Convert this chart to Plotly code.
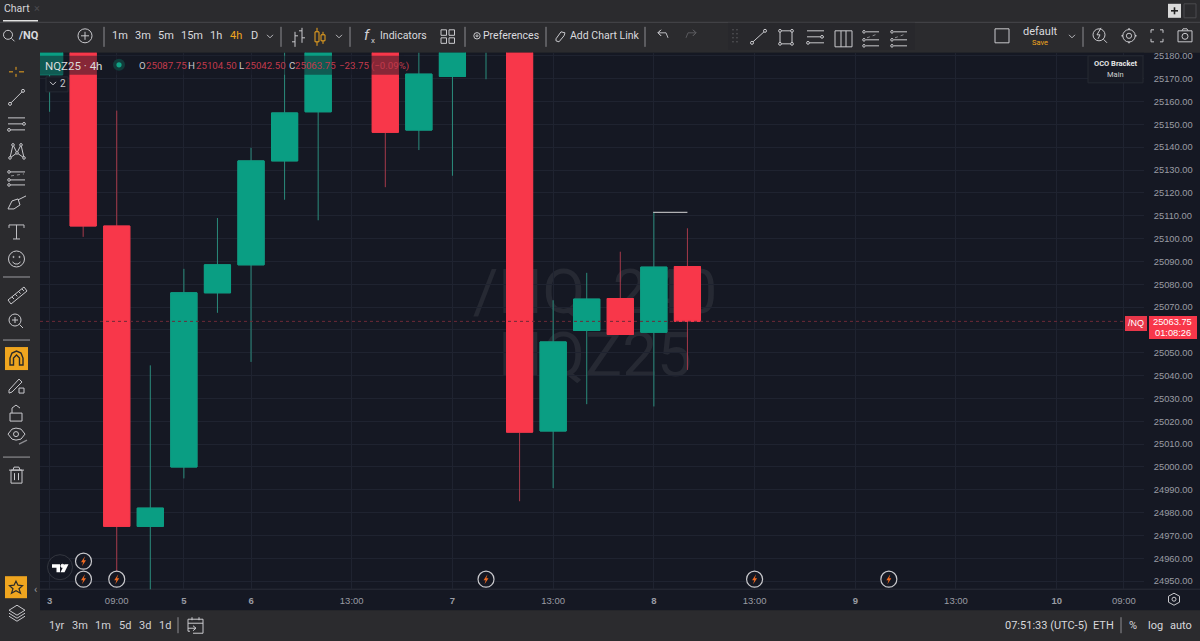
import plotly.graph_objects as go

# ---- data ----
BAR_INDEX = list(range(20))
OPEN  = [25171.75, 25230.00, 25105.50, 24974.00, 25000.00, 25076.25, 25088.50, 25134.00, 25155.50, 25210.00,
         25200.00, 25147.50, 25171.00, 25185.00, 25200.00, 25015.75, 25059.75, 25073.75, 25059.00, 25087.75]
HIGH  = [25200.00, 25240.00, 25156.00, 25044.50, 25086.75, 25109.00, 25139.75, 25190.00, 25210.00, 25220.00,
         25210.00, 25195.00, 25200.00, 25205.00, 25210.00, 25073.00, 25085.00, 25094.25, 25111.50, 25104.50]
LOW   = [25155.50, 25100.75, 24952.50, 24945.00, 24995.00, 25067.50, 25046.00, 25117.00, 25108.00, 25185.00,
         25122.50, 25138.75, 25127.50, 25169.75, 24985.00, 24990.75, 25027.50, 25058.00, 25026.50, 25042.50]
CLOSE = [25190.00, 25105.50, 24974.00, 24982.00, 25076.25, 25088.50, 25134.00, 25155.00, 25195.00, 25195.00,
         25146.50, 25172.00, 25190.00, 25195.00, 25015.25, 25054.75, 25073.50, 25058.00, 25087.50, 25063.75]
PRICE_TICKS = [24950, 24960, 24970, 24980, 24990, 25000, 25010, 25020, 25030, 25040, 25050, 25060,
               25070, 25080, 25090, 25100, 25110, 25120, 25130, 25140, 25150, 25160, 25170, 25180]
# 25060 sits behind the current-price box
PRICE_TICK_LABELS = ['24950.00', '24960.00', '24970.00', '24980.00', '24990.00', '25000.00', '25010.00', '25020.00',
                     '25030.00', '25040.00', '25050.00', '', '25070.00', '25080.00', '25090.00', '25100.00',
                     '25110.00', '25120.00', '25130.00', '25140.00', '25150.00', '25160.00', '25170.00', '25180.00']
TIME_TICK_INDEX = [0, 2, 4, 6, 9, 12, 15, 18, 21, 24, 27, 30, 32]
TIME_TICK_LABELS = ['3', '09:00', '5', '6', '13:00', '7', '13:00', '8', '13:00', '9', '13:00', '10', '09:00']
EVENT_INDEX = [2, 13, 21, 25]

# ---- styling ----
W, H = 1200, 641
CHART_L, CHART_R, CHART_T, CHART_B = 40, 1144, 53, 589
BAR_PX, FIRST_PX = 33.57, 49.6
PX_PER_PT, Y180 = 2.2826, 56.0
BG = '#151823'
PANEL = '#2b2b2e'
GRID = '#1f2330'
GREEN = '#0A9E83'
RED = '#F8374A'
GREEN_W = '#2B8C7C'
RED_W = '#A63A4A'
ICON = '#c9c9cd'
ORANGE = '#EFA51F'
FONT = 'Roboto'
AXFONT = 'Liberation Sans'
CLEAR = 'rgba(0,0,0,0)'
Y_OFF, Y_SCALE = 2.2, 0.9962

def X(p): return p / W
def Y(p): return 1 - (p - Y_OFF) / Y_SCALE / H

S = []
A = []

def line(x0, y0, x1, y1, c=ICON, w=1, layer='above', dash=None):
    S.append(dict(type='line', xref='paper', yref='paper', x0=X(x0), y0=Y(y0), x1=X(x1), y1=Y(y1),
                  line=dict(color=c, width=w, dash=dash or 'solid'), layer=layer))

def rect(x0, y0, x1, y1, fill=None, c=None, w=1, layer='above'):
    if c is None:
        c = ICON if fill is None else CLEAR
    S.append(dict(type='rect', xref='paper', yref='paper', x0=X(x0), y0=Y(y0), x1=X(x1), y1=Y(y1),
                  fillcolor=fill or CLEAR, line=dict(color=c, width=w), layer=layer))

def circ(cx, cy, r, fill=CLEAR, c=ICON, w=1):
    S.append(dict(type='circle', xref='paper', yref='paper', x0=X(cx - r), y0=Y(cy - r), x1=X(cx + r), y1=Y(cy + r),
                  fillcolor=fill, line=dict(color=c, width=w), layer='above'))

def poly(pts, closed=False, fill=CLEAR, c=ICON, w=1):
    d = 'M ' + ' L '.join(f'{X(a):.5f},{Y(b):.5f}' for a, b in pts) + (' Z' if closed else '')
    S.append(dict(type='path', xref='paper', yref='paper', path=d, fillcolor=fill,
                  line=dict(color=c, width=w), layer='above'))

def T(x, y, s, size=11, c='#d2d2d6', anchor='center', font=FONT):
    A.append(dict(xref='paper', yref='paper', x=X(x), y=Y(y), text=s, showarrow=False, xanchor=anchor,
                  yanchor='middle', borderpad=0, borderwidth=0, font=dict(family=font, size=size, color=c)))

# ---- panels ----
rect(CHART_L, CHART_T, W, 610, fill=BG, layer='below')
line(0, 22.5, W, 22.5, c='#47474b', w=1, layer='below')
line(CHART_L, CHART_B, W, CHART_B, c='#2a2e39', w=1, layer='below')

# watermark: text below the candles
for cy, txt, cx in [(288, '/NQ, 240', 595), (350, 'NQZ25', 595)]:
    S.append(dict(type='rect', xref='paper', yref='paper', x0=X(cx - 160), x1=X(cx + 160), y0=Y(cy + 35), y1=Y(cy - 35),
                  fillcolor=CLEAR, line=dict(width=0), layer='below',
                  label=dict(text=txt, textposition='middle center',
                             font=dict(family=FONT, size=62, color='#262933'))))

# ---- marks derived from the data ----
last = len(CLOSE) - 1
S.append(dict(type='line', xref='paper', yref='y', x0=X(CHART_L), x1=X(CHART_R), y0=CLOSE[last], y1=CLOSE[last],
              line=dict(color='#6e2a38', width=1, dash='dot'), layer='above'))
S.append(dict(type='line', xref='x', yref='y', x0=BAR_INDEX[18] - 0.02, x1=BAR_INDEX[19], y0=HIGH[18], y1=HIGH[18],
              line=dict(color='#d8d8d8', width=1), layer='above'))

# ---- legend strip ----
rect(CHART_L, 56, 404, 75, fill='rgba(21,24,35,0.5)')
T(45, 66, 'NQZ25 · 4h', 11.5, '#dcdcdc', 'left')
circ(119, 65, 6, fill='#123c3b', c=CLEAR)
circ(119, 65, 2.6, fill='#12a386', c=CLEAR)
legend_red = '#c23a4c'
for lab, val, xv in [('O', '25087.75', 146), ('H', '25104.50', 196), ('L', '25042.50', 245), ('C', '25063.75', 295)]:
    T(xv - 0.5, 66, lab, 9.7, '#c8c8cc', 'right')
    T(xv, 66, val, 9.7, legend_red, 'left')
T(339, 66, '−23.75', 9.7, legend_red, 'left')
T(371, 66, '(−0.09%)', 9.7, legend_red, 'left')
rect(46, 77, 68, 92, fill='#171a24', c='#262a35')
poly([(50, 82), (53, 85), (56, 82)], c='#c8c8cc')
T(60, 84, '2', 10, '#c8c8cc', 'left')

# ---- OCO box ----
rect(1088, 56, 1143, 83, fill='#181b25', c='#262a33')
T(1115.5, 64, '<b>OCO Bracket</b>', 7.5, '#e6e6e6')
T(1115.5, 75, 'Main', 7.5, '#d0d0d0')

# ---- price labels ----
rect(1125, 316, 1147, 331, fill='#E8374A')
T(1136, 323, '/NQ', 9, '#ffffff', font=AXFONT)
rect(1149, 316, 1197, 339, fill='#F8374A')
T(1172.5, 321.5, '25063.75', 9.3, '#ffffff', font=AXFONT)
T(1172.5, 333, '01:08:26', 9.3, '#ffffff', font=AXFONT)

# ---- top bar ----
T(4, 9, 'Chart', 10.5, '#d6d6da', 'left')
T(34, 9, '×', 11, '#4a4a4e', 'left')
line(3, 21, 38, 21, c='#e2e2e2', w=1.5)
rect(1168, 4, 1181, 18, fill='#d9d9d9')
line(1171, 11, 1178, 11, c='#222', w=1.6)
line(1174.5, 7.5, 1174.5, 14.5, c='#222', w=1.6)
rect(1184, 4, 1196, 18, c='#4a4a4e')
circ(8, 35, 4.5)
line(11.5, 38.5, 14.5, 41.5)
T(18, 36, '<b>/NQ</b>', 11, '#dadade', 'left')
circ(85, 36, 7)
line(81, 36, 89, 36)
line(85, 32, 85, 40)
for sx in [104, 281, 350, 465, 546, 645]:
    line(sx, 27, sx, 47, c='#8d8d91')
for tx, s, col in [(120, '1m', None), (143, '3m', None), (166, '5m', None), (192, '15m', None),
                   (216, '1h', None), (236, '4h', ORANGE), (254, 'D', None)]:
    T(tx, 36, s, 11, col or '#dadade')
for cx, cy in [(270, 35), (339, 35), (1072, 35)]:
    poly([(cx - 3, cy), (cx, cy + 3), (cx + 3, cy)], c='#b8b8bc')
# bar style icons
line(295, 32, 295, 47); line(292, 42, 295, 42); line(295, 36, 298, 36)
line(302, 28, 302, 43); line(299, 31, 302, 31); line(302, 38, 305, 38)
line(317, 28, 317, 46, c=ORANGE); rect(315, 32, 319, 42, c=ORANGE, fill=PANEL)
line(323, 32, 323, 44, c=ORANGE); rect(321, 35, 325, 41, c=ORANGE, fill=PANEL)
# indicators
T(367, 35, '<i>f</i>', 15, '#d0d0d4'); T(373, 41, 'x', 8, '#d0d0d4')
T(403, 36, 'Indicators', 10.5, '#dadade')
for gx, gy in [(441, 30), (449, 30), (441, 38), (449, 38)]:
    rect(gx, gy, gx + 5.5, gy + 5.5, c=ICON)
circ(477, 36, 3.2)
circ(477, 36, 1, c=ICON)
T(511, 36, 'Preferences', 10.5, '#dadade')
poly([(556, 39), (561, 32), (565, 33), (564, 36), (559, 42), (556, 41), (556, 39)])
T(604, 36, 'Add Chart Link', 10.5, '#dadade')
poly([(658, 33), (661, 30), (658, 33), (661, 36), (658, 33), (666, 33), (668, 38)], c='#bdbdc1')
poly([(696, 33), (693, 30), (696, 33), (693, 36), (696, 33), (688, 33), (686, 38)], c='#5a5a5e')

# floating drawing toolbar
TB = '#28282c'
rect(728, 23, 915, 50, fill=TB)
for dy in [30, 34, 38, 42]:
    circ(733, dy, 0.4, c='#5a5a5e'); circ(737, dy, 0.4, c='#5a5a5e')
circ(752, 43, 1.5); circ(765, 31, 1.5); line(753, 42, 764, 32)
rect(780, 31, 792, 44)
for a, b in [(780, 31), (792, 31), (780, 44), (792, 44)]:
    circ(a, b, 1.4, fill=TB)
for yy in [31, 37, 43]:
    line(807, yy, 824, yy)
circ(822, 37, 1.4, fill=TB); circ(808, 43, 1.4, fill=TB)
rect(835, 31, 852, 47)
for k in [841, 846]:
    line(k, 31, k, 47); line(835, k - 4, 852, k - 4)
for ox in [863, 891]:
    for yy in [32, 40, 46]:
        line(ox + 3, yy, ox + 16, yy)
        circ(ox + 1, yy, 1.3, fill=TB)
    line(ox + 4, 38, ox + 15, 34, c='#8d8d91', dash='dot')

# right cluster
rect(995, 29, 1009, 43, c=ICON)
T(1040, 32, 'default', 11, '#dadade')
T(1040, 43, 'Save', 7.5, ORANGE)
line(1083, 27, 1083, 47, c='#8d8d91')
circ(1099, 35, 6)
line(1103.5, 39.5, 1107, 43)
poly([(1101, 28), (1097, 35), (1100, 35), (1098, 39)], c=ICON)
circ(1129, 36, 2.6)
circ(1129, 36, 6.2)
for (a, b, c1, d) in [(1129, 28.5, 1129, 30), (1129, 42, 1129, 43.5), (1121.5, 36, 1123, 36), (1135, 36, 1136.5, 36)]:
    line(a, b, c1, d, w=1.6)
for (a, b, sx, sy) in [(1151, 30, 1, 1), (1163, 30, -1, 1), (1151, 42, 1, -1), (1163, 42, -1, -1)]:
    poly([(a, b + 3 * sy), (a, b), (a + 3 * sx, b)])
rect(1178, 31, 1192, 42)
circ(1185, 36.5, 3)
line(1182, 31, 1183, 29); line(1183, 29, 1187, 29); line(1187, 29, 1188, 31)

# ---- left tool bar ----
line(16, 67, 16, 70, c=ORANGE); line(16, 74, 16, 77, c=ORANGE)
line(9, 72, 13, 72, c=ORANGE); line(19, 72, 24, 72, c=ORANGE)
circ(10, 104, 1.5); circ(23, 91, 1.5); line(11, 103, 22, 92)
for yy in [118, 124, 130]:
    line(8, yy, 25, yy)
circ(24, 124, 1.4, fill=PANEL); circ(9, 130, 1.4, fill=PANEL)
poly([(10, 158), (13, 145), (17, 153), (21, 145), (24, 158), (17, 153), (10, 158)])
for a, b in [(10, 158), (13, 145), (17, 153), (21, 145), (24, 158)]:
    circ(a, b, 1.3, fill=PANEL)
for yy in [172, 180, 185]:
    line(10, yy, 25, yy)
    circ(9, yy, 1.3, fill=PANEL)
line(11, 176, 24, 174, c='#8d8d91', dash='dot')
poly([(8, 209), (12, 201), (18, 199), (20, 205), (14, 209), (8, 209)])
line(18, 200, 26, 196)
line(9, 225, 24, 225, c='#c0c0c4'); line(16.5, 225, 16.5, 239, c='#c0c0c4'); line(13, 239, 20, 239, c='#c0c0c4')
line(9, 225, 9, 228, c='#c0c0c4'); line(24, 225, 24, 228, c='#c0c0c4')
circ(16.5, 259, 8)
circ(13.5, 257, 0.6); circ(19.5, 257, 0.6)
poly([(12.5, 262), (15, 264), (18, 264), (20.5, 262)])
for yy in [277, 340, 457]:
    line(3, yy, 30, yy, c='#77777b', w=1.5)
poly([(8, 300), (24, 287), (27, 291), (11, 304), (8, 300)])
for k in range(4):
    line(12 + 3.3 * k, 297 - 2.7 * k, 14 + 3.3 * k, 299 - 2.7 * k)
circ(15, 320, 6)
line(19.5, 324.5, 23, 328)
line(12, 320, 18, 320); line(15, 317, 15, 323)
rect(5, 347, 28, 370, fill=ORANGE)
poly([(10, 365), (10, 358), (12, 353), (16.5, 351), (21, 353), (23, 358), (23, 365), (19.5, 365),
      (19.5, 358), (16.5, 355), (13.5, 358), (13.5, 365)], closed=True, c='#2a2a2a', w=1.4)
poly([(9, 390), (19, 379), (22, 382), (12, 392), (9, 393), (9, 390)])
rect(19, 388, 24, 393)
rect(10, 413, 22, 421)
poly([(12, 413), (12, 408), (16, 405), (20, 408)])
poly([(8, 434), (12, 429), (16, 428), (21, 429), (25, 434), (21, 439), (16, 440), (12, 439), (8, 434)])
circ(16, 434, 2.5)
line(19, 444, 27, 440, c='#8d8d91', w=1.4)
rect(11, 470, 22, 483)
line(9, 470, 24, 470); poly([(13, 470), (14, 467), (19, 467), (20, 470)])
line(14.5, 473, 14.5, 480); line(18.5, 473, 18.5, 480)
rect(5, 576, 27, 598, fill=ORANGE)
poly([(16, 581), (18, 585), (22.5, 585.5), (19, 588.5), (20.5, 593), (16, 590.5), (11.5, 593), (13, 588.5), (9.5, 585.5), (14, 585), (16, 581)], closed=True, c='#2a2a2a', w=1.2)
poly([(17, 605), (25, 610), (17, 615), (9, 610), (17, 605)])
poly([(9, 613), (17, 618), (25, 613)])
poly([(9, 616), (17, 621), (25, 616)])
T(35, 589, '‹', 11, '#9a9a9e')

# ---- chart decorations ----
circ(60, 567, 12.5, fill=BG, c='#33363f')
white = '#ffffff'
poly([(52, 564), (60, 564), (60, 572), (56.5, 572), (56.5, 567.5), (52, 567.5)], closed=True, fill=white, c=white, w=0)
circ(62.5, 565.7, 1.6, fill=white, c=white)
poly([(64.5, 564), (68.5, 564), (64.5, 572), (60.5, 572)], closed=True, fill=white, c=white, w=0)

def bolt(cx, cy):
    circ(cx, cy, 8, fill=BG, c='#c9c9cd', w=1.2)
    poly([(cx + 1.5, cy - 5), (cx - 2.5, cy + 1), (cx - 0.3, cy + 1), (cx - 1.5, cy + 5), (cx + 2.5, cy - 1), (cx + 0.3, cy - 1)],
         closed=True, fill='#F26B21', c='#F26B21', w=0)

bolt(83.5, 561)
bolt(83.5, 579)
for i in EVENT_INDEX:
    bolt(FIRST_PX + BAR_PX * i, 579)

# hexagon settings at the axis corner
poly([(1174, 593), (1179.5, 596), (1179.5, 602), (1174, 605), (1168.5, 602), (1168.5, 596)], closed=True)
circ(1174, 599, 2)

# ---- bottom bar ----
for tx, s in [(56, '1yr'), (80, '3m'), (103, '1m'), (125, '5d'), (145, '3d'), (165, '1d')]:
    T(tx, 625, s, 11, '#d2d2d6')
line(178, 617, 178, 633, c='#8d8d91')
poly([(190, 631), (188, 631), (188, 619), (203, 619), (203, 633), (193, 633)])
line(188, 623, 203, 623)
line(192, 617, 192, 620); line(199, 617, 199, 620)
line(188, 628, 196, 628); poly([(193, 625.5), (196, 628), (193, 630.5)])
T(1046, 625, '07:51:33 (UTC-5)', 11, '#d8d8dc')
T(1103, 625, 'ETH', 11, '#d8d8dc')
line(1121, 617, 1121, 633, c='#8d8d91')
T(1133, 625, '%', 11, '#d8d8dc')
T(1155, 625, 'log', 11, '#d8d8dc')
T(1181, 625, 'auto', 11, '#d8d8dc')

# ---- figure ----
fig = go.Figure()
# wicks
fig.add_trace(go.Candlestick(
    x=BAR_INDEX, open=OPEN, high=HIGH, low=LOW, close=CLOSE, whiskerwidth=0,
    increasing=dict(line=dict(color=GREEN_W, width=1), fillcolor=GREEN),
    decreasing=dict(line=dict(color=RED_W, width=1), fillcolor=RED),
    showlegend=False, hoverinfo='skip'))
# bodies on top of the wicks, same open/close values
fig.add_trace(go.Candlestick(
    x=BAR_INDEX, open=OPEN, close=CLOSE,
    high=[max(a, b) for a, b in zip(OPEN, CLOSE)],
    low=[min(a, b) for a, b in zip(OPEN, CLOSE)], whiskerwidth=0,
    increasing=dict(line=dict(color=GREEN, width=1), fillcolor=GREEN),
    decreasing=dict(line=dict(color=RED, width=1), fillcolor=RED),
    showlegend=False, hoverinfo='skip'))

x_lo = (CHART_L - FIRST_PX) / BAR_PX
x_hi = (CHART_R - FIRST_PX) / BAR_PX
y_hi = 25180 + (Y180 - CHART_T) / PX_PER_PT
y_lo = 25180 - (CHART_B - Y180) / PX_PER_PT

bold = [f'<b>{t}</b>' if ':' not in t else t for t in TIME_TICK_LABELS]
fig.update_layout(
    width=W, height=H, margin=dict(l=0, r=0, t=0, b=0, pad=0),
    paper_bgcolor=PANEL, plot_bgcolor=BG, showlegend=False,
    boxmode='overlay', boxgap=0, boxgroupgap=0.22,
    font=dict(family=AXFONT, size=9.5, color='#9a9ca3'),
    shapes=S, annotations=A,
    xaxis=dict(domain=[X(CHART_L), X(CHART_R)], range=[x_lo, x_hi], rangeslider=dict(visible=False),
               tickmode='array', tickvals=TIME_TICK_INDEX, ticktext=bold, ticks='outside', ticklen=2,
               tickcolor=CLEAR, showgrid=True, gridcolor=GRID, gridwidth=1, zeroline=False,
               showline=False, tickfont=dict(family=AXFONT, size=9.5, color='#9a9ca3')),
    yaxis=dict(domain=[Y(CHART_B), Y(CHART_T)], range=[y_lo, y_hi], side='right',
               tickmode='array', tickvals=PRICE_TICKS, ticktext=PRICE_TICK_LABELS, ticks='outside', ticklen=7,
               tickcolor=CLEAR, showgrid=True, gridcolor=GRID, gridwidth=1, zeroline=False,
               showline=False, tickfont=dict(family=AXFONT, size=9.3, color='#9a9ca3')),
)
fig.write_html('out.html', config=dict(displayModeBar=False),
               post_script="document.documentElement.style.cssText='margin:0;padding:0;overflow:hidden;background:#2b2b2e';"
                           "document.body.style.cssText='margin:0;padding:0;overflow:hidden;background:#2b2b2e';"
                           "var g=document.querySelector('.plotly-graph-div');"
                           "g.style.position='fixed';g.style.left='0';g.style.top='0';")
